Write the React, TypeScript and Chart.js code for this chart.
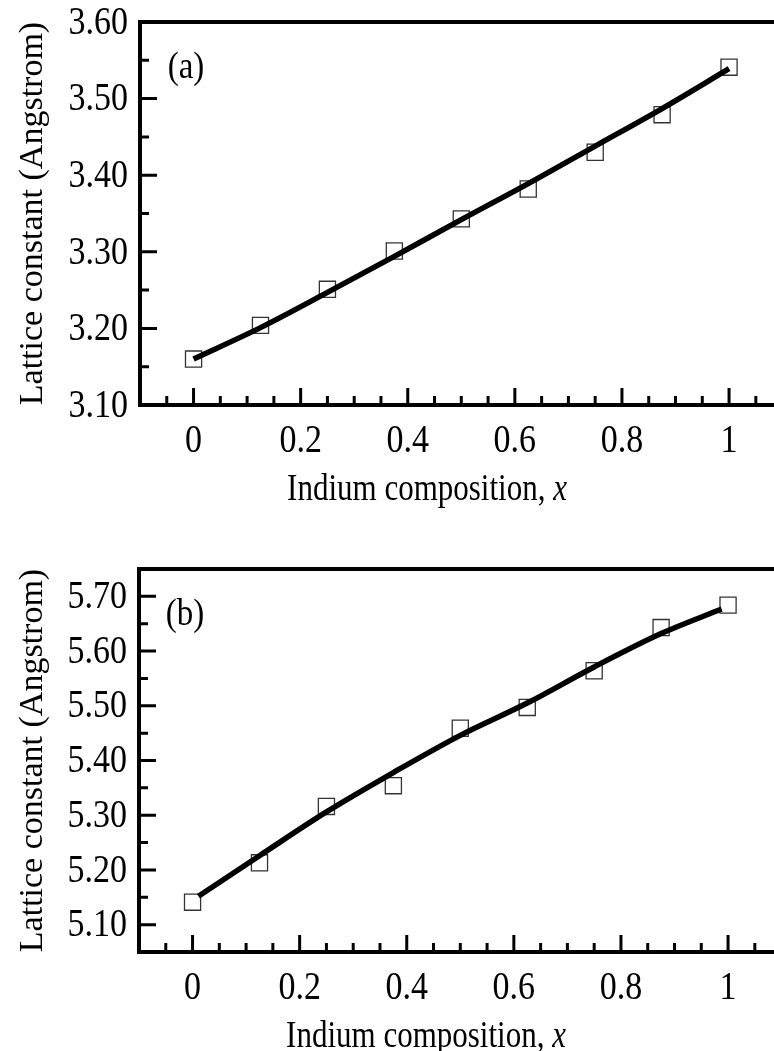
import { useEffect, useRef } from "react";
import { Chart, registerables } from "chart.js";

Chart.register(...registerables);

// Indium compositions of the computed alloys
const compositionX = [0, 0.125, 0.25, 0.375, 0.5, 0.625, 0.75, 0.875, 1];

// (a) lattice constant a, computed points and fitted curve
const latticeA = [3.16, 3.204, 3.251, 3.301, 3.343, 3.382, 3.43, 3.479, 3.541];
const fitAX = [0, 0.125, 0.25, 0.375, 0.5, 0.625, 0.75, 0.875, 1];
const fitA = [3.16, 3.201, 3.247, 3.294, 3.342, 3.389, 3.438, 3.487, 3.539];

// (b) lattice constant c, computed points and fitted curve
const latticeB = [5.141, 5.213, 5.316, 5.354, 5.459, 5.497, 5.564, 5.643, 5.684];
const fitBX = [0.011, 0.125, 0.25, 0.375, 0.5, 0.625, 0.75, 0.875, 0.988];
const fitB = [5.152, 5.226, 5.306, 5.378, 5.446, 5.505, 5.571, 5.632, 5.677];

// Axis ticks
const xTicks = [0, 0.2, 0.4, 0.6, 0.8, 1];
const xMinorTicks = [-0.05, 0.05, 0.1, 0.15, 0.25, 0.3, 0.35, 0.45, 0.5, 0.55, 0.65, 0.7, 0.75, 0.85, 0.9, 0.95, 1.05];
const yTicksA = [3.1, 3.2, 3.3, 3.4, 3.5, 3.6];
const yMinorTicksA = [3.15, 3.25, 3.35, 3.45, 3.55];
const yTicksB = [5.1, 5.2, 5.3, 5.4, 5.5, 5.6, 5.7];
const yMinorTicksB = [5.15, 5.25, 5.35, 5.45, 5.55, 5.65];

const SERIF = '"Liberation Serif", "Times New Roman", serif';
// the lettering of this figure is set tall and narrow
const TEXT_STRETCH = 1.2;

type PanelSpec = {
  tag: string;
  points: number[];
  fitX: number[];
  fitY: number[];
  yMin: number;
  yMax: number;
  yTicks: number[];
  yMinor: number[];
  height: number;
  padTop: number;
  xAxisHeight: number;
  yAxisWidth: number;
};

function tallText(
  ctx: CanvasRenderingContext2D,
  text: string,
  x: number,
  y: number,
  font: string,
  align: CanvasTextAlign,
  baseline: CanvasTextBaseline,
  stretch = TEXT_STRETCH
) {
  ctx.save();
  ctx.translate(x, y);
  ctx.scale(1, stretch);
  ctx.font = font;
  ctx.textAlign = align;
  ctx.textBaseline = baseline;
  ctx.fillText(text, 0, 0);
  ctx.restore();
}

const frameTicksPlugin = {
  id: "frameTicks",
  afterDraw(chart: any, _args: any, opts: any) {
    const { ctx, chartArea } = chart;
    const { left, right, top, bottom } = chartArea;
    const xs = chart.scales.x;
    const ys = chart.scales.y;
    ctx.save();
    ctx.strokeStyle = "#000";
    ctx.fillStyle = "#000";
    ctx.lineCap = "butt";

    // inward tick marks
    ctx.lineWidth = 3;
    ctx.beginPath();
    for (const v of opts.xMajor) {
      const px = xs.getPixelForValue(v);
      ctx.moveTo(px, bottom);
      ctx.lineTo(px, bottom - 17);
    }
    for (const v of opts.xMinor) {
      const px = xs.getPixelForValue(v);
      ctx.moveTo(px, bottom);
      ctx.lineTo(px, bottom - 9);
    }
    for (const v of opts.yMajor) {
      const py = ys.getPixelForValue(v);
      ctx.moveTo(left, py);
      ctx.lineTo(left + 17, py);
    }
    for (const v of opts.yMinor) {
      const py = ys.getPixelForValue(v);
      ctx.moveTo(left, py);
      ctx.lineTo(left + 9, py);
    }
    ctx.stroke();

    // plot frame
    ctx.lineWidth = 4;
    ctx.strokeRect(left, top, right - left, bottom - top);

    // tick labels
    const tickFont = `34px ${SERIF}`;
    for (const v of opts.xMajor) {
      tallText(ctx, String(v), xs.getPixelForValue(v), bottom + 47, tickFont, "center", "alphabetic");
    }
    for (const v of opts.yMajor) {
      tallText(ctx, v.toFixed(2), left - 12, ys.getPixelForValue(v) + 1, tickFont, "right", "middle");
    }

    // panel tag
    tallText(ctx, opts.tag, left + 46, top + 46, `33px ${SERIF}`, "center", "middle", 1.12);

    // x-axis title with italic variable
    const main = "Indium composition, ";
    const variable = "x";
    const mainFont = `31px ${SERIF}`;
    const varFont = `italic 31px ${SERIF}`;
    ctx.font = mainFont;
    const w1 = ctx.measureText(main).width;
    ctx.font = varFont;
    const w2 = ctx.measureText(variable).width;
    const startX = left + 287 - (w1 + w2) / 2;
    const baseY = bottom + 95;
    tallText(ctx, main, startX, baseY, mainFont, "left", "alphabetic");
    tallText(ctx, variable, startX + w1, baseY, varFont, "left", "alphabetic");
    ctx.restore();
  },
};

function LatticePanel({ spec, top }: { spec: PanelSpec; top: number }) {
  const ref = useRef<HTMLCanvasElement | null>(null);

  useEffect(() => {
    if (!ref.current) return;
    const width = 800;
    const plotRight = spec.yAxisWidth + 1.2 * 535.5;
    const chart = new Chart(ref.current, {
      type: "scatter",
      data: {
        datasets: [
          {
            type: "line",
            data: spec.fitX.map((x, i) => ({ x, y: spec.fitY[i] })),
            borderColor: "#000",
            borderWidth: 5.5,
            pointRadius: 0,
            fill: false,
            tension: 0.25,
            cubicInterpolationMode: "monotone",
          } as any,
          {
            type: "scatter",
            data: compositionX.map((x, i) => ({ x, y: spec.points[i] })),
            pointStyle: "rect",
            pointRadius: 11.4,
            pointBorderWidth: 1.3,
            pointBorderColor: "#333",
            pointBackgroundColor: "rgba(255,255,255,0)",
          } as any,
        ],
      },
      options: {
        responsive: false,
        animation: false,
        devicePixelRatio: 1,
        layout: {
          padding: { top: spec.padTop, right: width - plotRight, left: 0, bottom: 0 },
        },
        plugins: {
          legend: { display: false },
          tooltip: { enabled: false },
          frameTicks: {
            tag: spec.tag,
            xMajor: xTicks,
            xMinor: xMinorTicks,
            yMajor: spec.yTicks,
            yMinor: spec.yMinor,
          },
        } as any,
        scales: {
          x: {
            type: "linear",
            min: -0.1,
            max: 1.1,
            grid: { display: false, drawTicks: false },
            border: { display: false },
            afterBuildTicks: (axis: any) => {
              axis.ticks = xTicks.map((v) => ({ value: v }));
            },
            afterFit: (axis: any) => {
              axis.height = spec.xAxisHeight;
            },
            ticks: { display: false },
          },
          y: {
            type: "linear",
            min: spec.yMin,
            max: spec.yMax,
            grid: { display: false, drawTicks: false },
            border: { display: false },
            afterBuildTicks: (axis: any) => {
              axis.ticks = spec.yTicks.map((v) => ({ value: v }));
            },
            afterFit: (axis: any) => {
              axis.width = spec.yAxisWidth;
            },
            ticks: { display: false },
            title: {
              display: true,
              text: "Lattice constant (Angstrom)",
              color: "#000",
              font: { family: SERIF, size: 34 },
              padding: { top: 13, bottom: 0 },
            },
          },
        },
      },
      plugins: [frameTicksPlugin],
    });
    return () => chart.destroy();
  }, [spec]);

  return (
    <canvas
      ref={ref}
      width={800}
      height={spec.height}
      style={{ position: "absolute", left: 0, top, width: 800, height: spec.height }}
    />
  );
}

const panelA: PanelSpec = {
  tag: "(a)",
  points: latticeA,
  fitX: fitAX,
  fitY: fitA,
  yMin: 3.1,
  yMax: 3.6,
  yTicks: yTicksA,
  yMinor: yMinorTicksA,
  height: 525,
  padTop: 22,
  xAxisHeight: 120,
  yAxisWidth: 140,
};

const panelB: PanelSpec = {
  tag: "(b)",
  points: latticeB,
  fitX: fitBX,
  fitY: fitB,
  yMin: 5.05,
  yMax: 5.75,
  yTicks: yTicksB,
  yMinor: yMinorTicksB,
  height: 526,
  padTop: 44,
  xAxisHeight: 99,
  yAxisWidth: 139,
};

export default function App() {
  return (
    <div
      style={{
        position: "fixed",
        left: 0,
        top: 0,
        width: 774,
        height: 1051,
        overflow: "hidden",
        background: "#fff",
      }}
    >
      <LatticePanel spec={panelA} top={0} />
      <LatticePanel spec={panelB} top={525} />
    </div>
  );
}
